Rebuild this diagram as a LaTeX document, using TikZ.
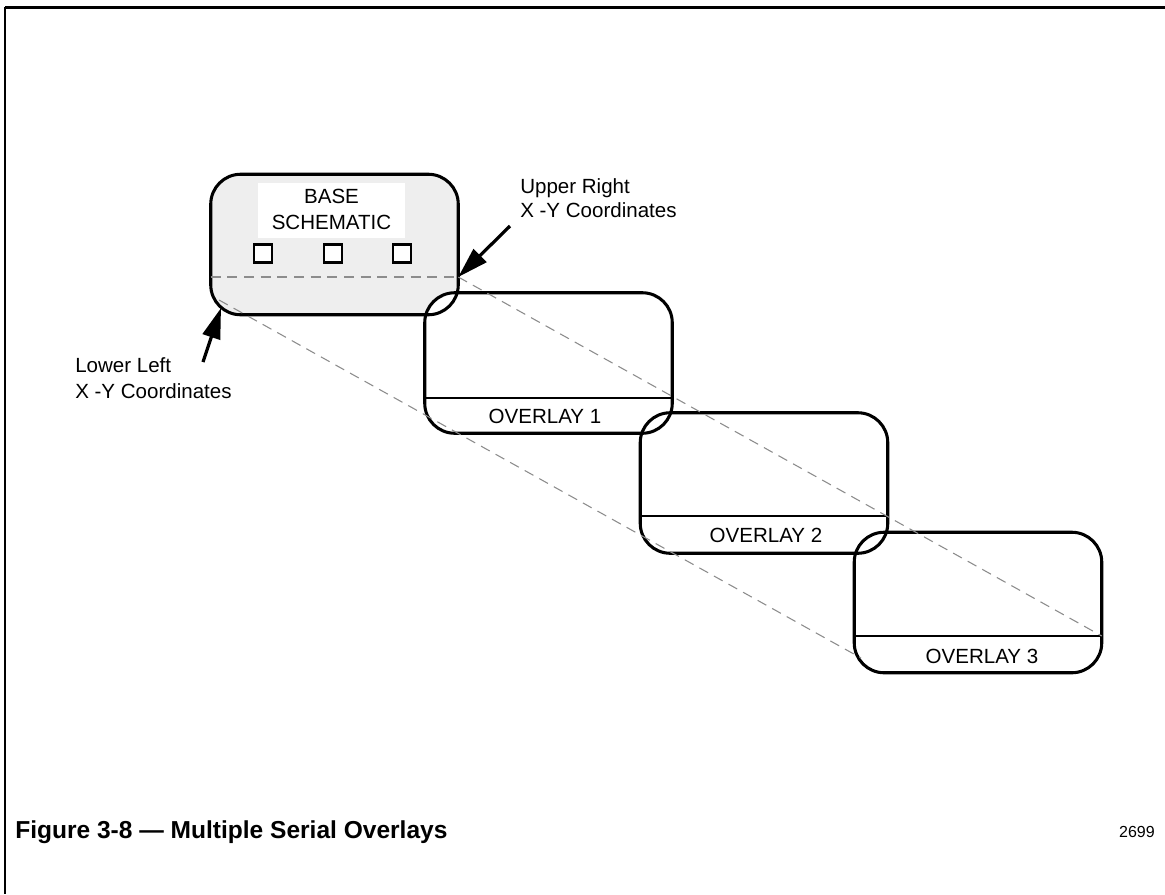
\documentclass[tikz,border=0pt]{standalone}
\usepackage{fontspec}
\setmainfont{Liberation Sans}
\usetikzlibrary{arrows.meta}
\definecolor{basegray}{HTML}{EEEEEE}
\definecolor{dashgray}{HTML}{8C8C8C}
\begin{document}
\begin{tikzpicture}[x=0.75pt,y=-0.75pt,
  boxfill/.style={rectangle, rounded corners=22.5pt, minimum width=185.25pt, minimum height=105pt, inner sep=0pt},
  outline/.style={line width=2.3pt, rounded corners=22.5pt},
  divider/.style={line width=2.2pt},
  guide/.style={dashgray, line width=0.8pt, dash pattern=on 7.5pt off 5pt},
  pointer/.style={line width=2.4pt, -{Triangle[length=23pt,width=13.5pt]}},
  lbl/.style={font=\fontsize{15.4}{18}\selectfont, inner sep=0pt},
  pin/.style={draw, line width=1.8pt, fill=white, minimum size=13.5pt, inner sep=0pt},
]
\useasboundingbox (0,0) rectangle (1165,894);
% frame
\draw[line width=2.25pt] (5,7) -- (1165,7);
\draw[line width=1.6pt] (5,7) -- (5,894);

% fills
\node[boxfill, fill=basegray] (base) at (334.5,244.5) {};
\node[fill=white, minimum width=110.25pt, minimum height=41.25pt, inner sep=0pt] (baselbl) at (331.5,210.5) {};
\node[pin] (sq1) at (263,253.5) {};
\node[pin] (sq2) at (333,253.5) {};
\node[pin] (sq3) at (402,253.5) {};
\node[boxfill, fill=white] (ov1) at (548.5,363) {};
\node[boxfill, fill=white] (ov2) at (764,483) {};
\node[boxfill, fill=white] (ov3) at (978,602.5) {};

% outlines
\draw[outline] (base.north west) rectangle (base.south east);
\draw[outline] (ov1.north west) rectangle (ov1.south east);
\draw[outline] (ov2.north west) rectangle (ov2.south east);
\draw[outline] (ov3.north west) rectangle (ov3.south east);

% dividers
\coordinate (b0l) at (base.west |- 0,277);
\coordinate (b0r) at (base.east |- 0,277);
\coordinate (d1l) at (ov1.west |- 0,398);
\coordinate (d1r) at (ov1.east |- 0,398);
\coordinate (d2l) at (ov2.west |- 0,516);
\coordinate (d2r) at (ov2.east |- 0,516);
\coordinate (d3l) at (ov3.west |- 0,636);
\coordinate (d3r) at (ov3.east |- 0,636);
\draw[divider] (d1l) -- (d1r);
\draw[divider] (d2l) -- (d2r);
\draw[divider] (d3l) -- (d3r);

% guide lines
\coordinate (ll0) at (219,300);
\coordinate (ll3) at (861,658);
\draw[guide] (b0l) -- (b0r);
\draw[guide] (b0r) -- (d3r);
\draw[guide] (ll0) -- (ll3);

% pointers
\coordinate (urtail) at (510,226);
\coordinate (lltail) at (203,362);
\coordinate (lltip) at (221,308);
\draw[pointer] (urtail) -- (b0r);
\draw[pointer] (lltail) -- (lltip);

% texts
\node[lbl, anchor=base] (t1) at (331.5,203) {BASE};
\node[lbl, anchor=base] (t2) at (331.5,229) {SCHEMATIC};
\node[lbl, anchor=base] (o1) at (545,423) {OVERLAY 1};
\node[lbl, anchor=base] (o2) at (766,542) {OVERLAY 2};
\node[lbl, anchor=base] (o3) at (982,663) {OVERLAY 3};
\node[lbl, anchor=base west] (ur1) at (520,193) {Upper Right};
\node[lbl, anchor=base west] (ur2) at (520,217) {X -Y Coordinates};
\node[lbl, anchor=base west] (ll1) at (75,372) {Lower Left};
\node[lbl, anchor=base west] (ll2) at (75,398) {X -Y Coordinates};
\node[inner sep=0pt, anchor=base west, font=\bfseries\fontsize{18.4}{22}\selectfont] (title) at (15,838) {Figure 3-8 — Multiple Serial Overlays};
\node[inner sep=0pt, anchor=base east, font=\fontsize{12}{14}\selectfont] (num) at (1155,837) {2699};
\end{tikzpicture}
\end{document}
